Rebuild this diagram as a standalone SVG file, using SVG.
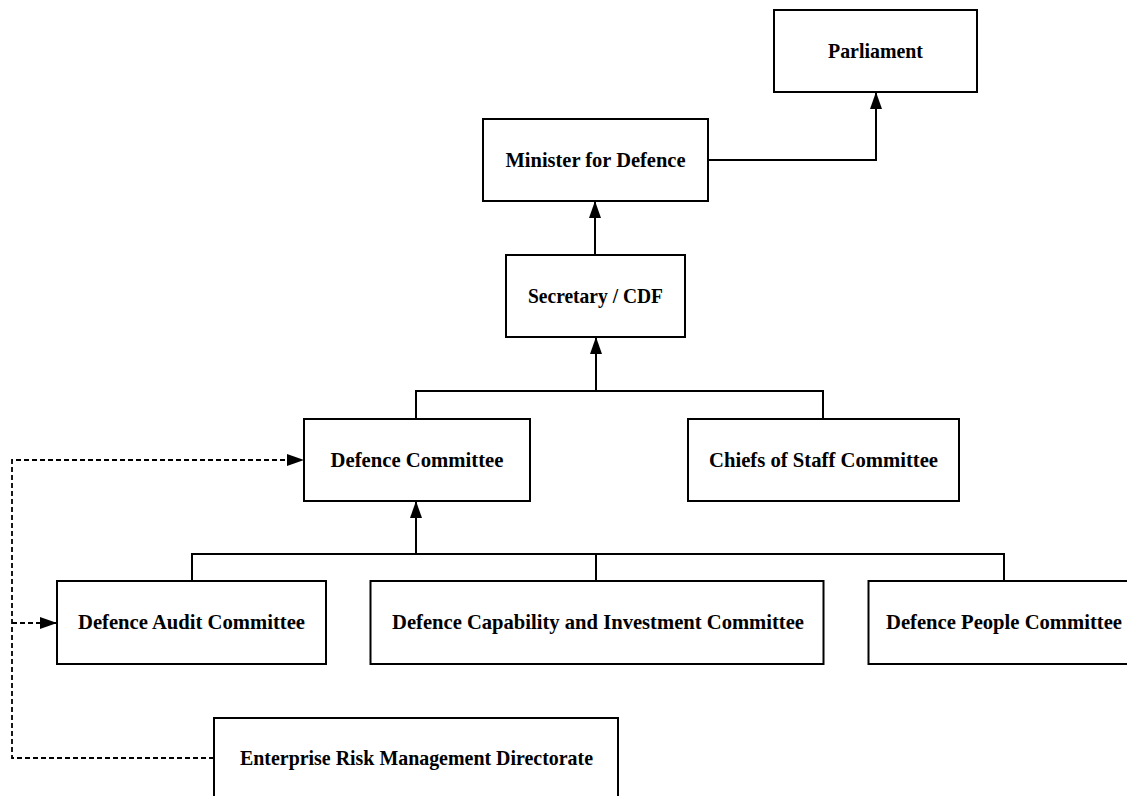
<svg xmlns="http://www.w3.org/2000/svg" width="1127" height="796" viewBox="0 0 1127 796">
  <style>
    .box { fill: #ffffff; stroke: #000000; stroke-width: 2; }
    .lbl { font-family: "Liberation Serif", "Times New Roman", serif; font-weight: bold; font-size: 21px; fill: #000000; text-anchor: middle; }
    .link { fill: none; stroke: #000000; stroke-width: 2; }
    .dash { fill: none; stroke: #000000; stroke-width: 1.8; stroke-dasharray: 5 3; }
  </style>
  <defs>
    <marker id="arrow" viewBox="0 0 17 12" refX="17" refY="6" markerWidth="17" markerHeight="12" markerUnits="userSpaceOnUse" orient="auto">
      <path d="M0,0 L17,6 L0,12 z" fill="#000000"/>
    </marker>
  </defs>
  <rect width="1127" height="796" fill="#ffffff"/>

  <g id="connectors">
    <!-- Minister reports to Parliament -->
    <path class="link" d="M708 160 H876 V92" marker-end="url(#arrow)"/>
    <!-- Secretary / CDF to Minister -->
    <path class="link" d="M595 255 V201" marker-end="url(#arrow)"/>
    <!-- Committees to Secretary / CDF -->
    <path class="link" d="M416 419 V391 H823 V419"/>
    <path class="link" d="M596 391 V337" marker-end="url(#arrow)"/>
    <!-- Sub-committees to Defence Committee -->
    <path class="link" d="M192 581 V554 H1004 V581"/>
    <path class="link" d="M596 554 V581"/>
    <path class="link" d="M416 554 V501" marker-end="url(#arrow)"/>
    <!-- Enterprise risk reporting lines -->
    <path class="dash" d="M214 758 H12 V460 H304" marker-end="url(#arrow)"/>
    <path class="dash" d="M12 623 H57" marker-end="url(#arrow)"/>
  </g>

  <g id="parliament">
    <rect class="box" x="774" y="10" width="203" height="82"/>
    <text class="lbl" x="875.5" y="58" textLength="95" lengthAdjust="spacingAndGlyphs">Parliament</text>
  </g>
  <g id="minister">
    <rect class="box" x="483" y="119" width="225" height="82"/>
    <text class="lbl" x="595.5" y="167" textLength="180" lengthAdjust="spacingAndGlyphs">Minister for Defence</text>
  </g>
  <g id="secretary">
    <rect class="box" x="506" y="255" width="179" height="82"/>
    <text class="lbl" x="595.5" y="303" textLength="135" lengthAdjust="spacingAndGlyphs">Secretary / CDF</text>
  </g>
  <g id="defence-committee">
    <rect class="box" x="304" y="419" width="226" height="82"/>
    <text class="lbl" x="417" y="467" textLength="173" lengthAdjust="spacingAndGlyphs">Defence Committee</text>
  </g>
  <g id="chiefs-of-staff">
    <rect class="box" x="688" y="419" width="271" height="82"/>
    <text class="lbl" x="823.5" y="467" textLength="229" lengthAdjust="spacingAndGlyphs">Chiefs of Staff Committee</text>
  </g>
  <g id="audit">
    <rect class="box" x="57" y="581" width="269" height="83"/>
    <text class="lbl" x="191.5" y="629" textLength="227" lengthAdjust="spacingAndGlyphs">Defence Audit Committee</text>
  </g>
  <g id="capability">
    <rect class="box" x="370.5" y="581" width="453" height="83"/>
    <text class="lbl" x="598" y="629" textLength="412" lengthAdjust="spacingAndGlyphs">Defence Capability and Investment Committee</text>
  </g>
  <g id="people">
    <rect class="box" x="868.5" y="581" width="272" height="83"/>
    <text class="lbl" x="1004" y="629" textLength="236" lengthAdjust="spacingAndGlyphs">Defence People Committee</text>
  </g>
  <g id="enterprise-risk">
    <rect class="box" x="214" y="718" width="404" height="82"/>
    <text class="lbl" x="416.5" y="765" textLength="353" lengthAdjust="spacingAndGlyphs">Enterprise Risk Management Directorate</text>
  </g>
</svg>
